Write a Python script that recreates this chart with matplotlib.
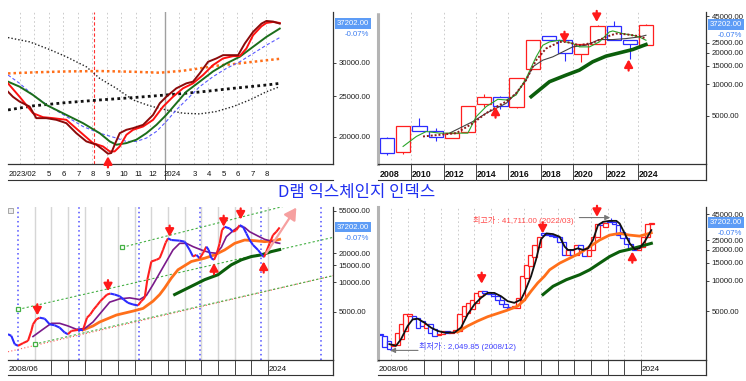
import matplotlib
matplotlib.use("Agg")
import matplotlib.pyplot as plt
from matplotlib.ticker import FixedLocator, NullLocator, FuncFormatter
from matplotlib.collections import LineCollection
from matplotlib.transforms import blended_transform_factory
from matplotlib.patches import Rectangle

plt.rcParams['font.family'] = ['Liberation Sans', 'Noto Sans CJK KR', 'DejaVu Sans']

W, H = 746, 381
RED = '#ff1f1f'
BLUE = '#2b2bff'
DKGREEN = '#0b5e0b'
ORANGE = '#ff6f1a'

title = "D램 익스체인지 인덱스"
last_price = 37202.00
change_txt = "-0.07%"

# ---- top left: daily, x = months counted from 2023/01 (=0)
tl_maroon_m = [1.20, 1.54, 2.0, 2.69, 3.15, 3.84, 4.53, 5.22, 5.91, 6.60, 7.29, 7.75, 8.09, 8.32, 8.55,
               8.90, 9.36, 9.82, 10.51, 11.20, 11.66, 12.11, 12.80, 13.49, 13.95, 14.41, 14.99, 15.56,
               16.02, 16.48, 17.06, 17.52, 18.09, 18.67, 19.01, 19.47, 19.93]
tl_maroon = [25600, 24900, 24250, 23600, 22150, 22150, 21950, 21550, 20400, 19500, 19150, 18640, 18230,
             18300, 19150, 20400, 20780, 20970, 21350, 22550, 24030, 24900, 26080, 26800, 27050, 28300,
             30160, 30720, 31280, 31280, 31280, 33340, 35530, 37180, 37720, 37600, 37180]
tl_red_m = [1.20, 2.0, 2.92, 3.61, 4.30, 5.22, 6.14, 7.06, 7.75, 8.21, 8.55, 8.90, 9.36, 9.82, 10.51,
            11.20, 11.89, 12.57, 13.26, 13.95, 14.64, 15.33, 16.02, 16.71, 17.17, 17.63, 18.09, 18.67,
            19.01, 19.47, 19.93]
tl_red = [26800, 24900, 22760, 22270, 22150, 21950, 20590, 19320, 18970, 18460, 18460, 18970, 20220,
          20780, 21160, 21950, 23600, 24900, 26080, 26800, 28050, 29620, 30720, 31110, 31110, 32440,
          34880, 36640, 37310, 37520, 37310]
tl_green_m = [1.20, 2.0, 2.92, 3.84, 5.22, 6.37, 7.52, 8.21, 8.67, 9.36, 10.05, 10.74, 11.43, 12.11,
              12.80, 13.49, 14.41, 15.33, 16.25, 17.17, 18.09, 19.01, 19.93]
tl_green = [27050, 26320, 25150, 23810, 22550, 21550, 20400, 19500, 19150, 19320, 19680, 20400, 21350,
            22550, 24030, 25600, 27050, 28610, 29890, 31000, 32740, 34570, 36180]
tl_blue_m = [1.20, 2.0, 2.92, 4.07, 5.22, 6.37, 7.52, 8.67, 9.36, 10.05, 10.74, 11.43, 12.11, 12.80,
             13.49, 14.41, 15.33, 16.25, 17.17, 18.09, 19.01, 19.93]
tl_blue = [28050, 26800, 25150, 23600, 22350, 21160, 20400, 19860, 19500, 19500, 19860, 20590, 21750,
           23170, 24470, 26320, 27800, 29090, 30160, 31570, 33040, 34440]
tl_orange_m = [1.20, 2.92, 5.22, 7.52, 9.82, 11.66, 13.26, 14.41, 15.56, 16.71, 18.09, 19.93]
tl_orange = [28300, 28460, 28610, 28670, 28560, 28410, 28720, 29090, 29510, 29780, 30160, 30660]
tl_blk_m = [1.20, 2.92, 5.22, 7.52, 9.82, 12.11, 14.41, 16.71, 19.01, 19.93]
tl_blk = [23170, 23690, 24120, 24470, 24790, 25150, 25560, 26080, 26560, 26800]
tl_blk2_m = [1.20, 2.69, 4.07, 5.22, 6.60, 7.52, 8.67, 9.82, 10.97, 12.11, 13.26, 14.41, 15.56, 16.71,
             17.86, 19.01, 19.93]
tl_blk2 = [34440, 33640, 32260, 31000, 29350, 27540, 26080, 24470, 23690, 23170, 22760, 22670, 22970,
           23600, 24470, 25600, 26320]
tl_labels = [(1.25, '2023/02'), (4, '5'), (5, '6'), (6, '7'), (7, '8'), (8, '9'), (9, '10'), (10, '11'),
             (11, '12'), (12, '2024'), (14, '3'), (15, '4'), (16, '5'), (17, '6'), (18, '7'), (19, '8')]

# ---- top right: yearly candles
tr_years = list(range(2008, 2025))
tr_open = [3040, 2218, 3984, 3590, 3040, 3440, 6460, 7590, 6095, 13940, 29010, 26770, 19670, 24520,
           35880, 26770, 23980]
tr_close = [2185, 3984, 3570, 3083, 3393, 6184, 7590, 6184, 11360, 26770, 26770, 19970, 24520, 35880,
            26770, 24520, 37202]
tr_high = [3100, 3984, 4715, 3840, 3440, 6184, 7990, 7700, 11360, 26770, 29010, 26770, 24520, 37200,
           40020, 26770, 37500]
tr_low = [2090, 2150, 3570, 2825, 3040, 3440, 6005, 5750, 5910, 13940, 26770, 16750, 16390, 24520,
          26770, 17500, 23980]
tr_green_x = [2009.49, 2010.31, 2010.92, 2011.75, 2012.98, 2013.49, 2014.01, 2014.62, 2015.34, 2015.86,
              2016.47, 2017.09, 2017.71, 2018.12, 2018.53, 2019.15, 2019.56, 2019.97, 2020.38, 2021.00,
              2021.61, 2022.23, 2022.44, 2023.05, 2023.67, 2024.08, 2024.49]
tr_green = [2530, 3152, 3517, 3392, 3392, 3392, 4890, 6094, 7160, 7053, 7875, 11360, 18290, 23630, 25420,
            26370, 25420, 24520, 22780, 22780, 25420, 31680, 32380, 30540, 29440, 28380, 26370]
tr_black_x = [2012.36, 2012.98, 2013.80, 2014.62, 2015.45, 2015.86, 2016.47, 2017.09, 2017.50, 2018.12,
              2018.74, 2019.15, 2019.97, 2020.79, 2021.61, 2022.44, 2023.26, 2024.08, 2024.49]
tr_black = [3392, 3785, 4382, 5263, 6094, 6556, 8168, 10950, 14680, 16990, 18290, 19670, 22780, 23630,
            26770, 26770, 27360, 28380, 29440]
tr_maroon_x = [2010.72, 2011.75, 2012.78, 2013.80, 2014.62, 2015.45, 2015.86, 2016.47, 2017.09, 2017.71,
               2018.32, 2019.15, 2019.56, 2020.38, 2021.20, 2022.02, 2022.64, 2023.26, 2024.08, 2024.49]
tr_maroon = [3152, 3270, 3392, 4225, 5263, 6320, 6800, 8168, 10950, 16990, 21960, 25420, 25420, 23630,
             24870, 28380, 30540, 30100, 28800, 27360]
tr_dkgreen_x = [2017.40, 2018.53, 2019.56, 2020.38, 2021.20, 2022.02, 2022.85, 2023.67, 2024.49]
tr_dkgreen = [7590, 10560, 12220, 13640, 16390, 18550, 19970, 21480, 23980]
tr_down = [(2019.46, 24900), (2021.45, 39450)]
tr_up = [(2015.2, 6094), (2023.42, 17250)]

# ---- bottom left: weekly
bl_x = [2008.40, 2008.60, 2008.80, 2009.00, 2009.30, 2009.60, 2009.80, 2009.90, 2010.10, 2010.30,
        2010.60, 2010.90, 2011.20, 2011.50, 2011.80, 2012.00, 2012.20, 2012.60, 2012.90, 2013.14,
        2013.34, 2013.54, 2013.74, 2013.94, 2014.14, 2014.34, 2014.54, 2014.80, 2015.10, 2015.34,
        2015.60, 2015.90, 2016.20, 2016.40, 2016.60, 2016.76, 2017.00, 2017.30, 2017.50, 2017.70,
        2017.86, 2018.00, 2018.20, 2018.70, 2019.00, 2019.30, 2019.50, 2019.70, 2019.90, 2020.10,
        2020.30, 2020.44, 2020.60, 2020.76, 2020.90, 2021.10, 2021.24, 2021.40, 2021.70, 2021.90,
        2022.10, 2022.30, 2022.50, 2022.70, 2022.90, 2023.10, 2023.40, 2023.64, 2023.76, 2023.90,
        2024.10, 2024.30, 2024.50, 2024.70]
bl_price = [2936, 2823, 2321, 2232, 2376, 2510, 3175, 3713, 4176, 4343, 4242, 3713, 3627, 3433, 3053,
            2936, 3175, 3250, 3250, 4343, 4697, 5282, 5802, 6424, 6947, 7513, 7692, 7513, 7224, 6680,
            6177, 5940, 5802, 6424, 6947, 10690, 16440, 17100, 17780, 21620, 25690, 28440, 27350, 26930,
            26300, 21620, 18490, 19230, 17780, 20000, 23390, 21620, 17780, 17100, 19230, 25290, 34590,
            37410, 35970, 33270, 34590, 38900, 37410, 31990, 27350, 24320, 21620, 19230, 18200, 20790,
            25290, 30760, 33270, 36830]
bl_purple_x = [2009.90, 2010.50, 2011.00, 2011.50, 2012.00, 2012.50, 2013.00, 2013.50, 2014.00, 2014.50,
               2015.10, 2015.70, 2016.30, 2016.70, 2017.10, 2017.50, 2017.90, 2018.30, 2018.70, 2019.10,
               2019.50, 2020.00, 2020.50, 2020.90, 2021.20, 2021.50, 2021.90, 2022.30, 2022.60, 2022.90,
               2023.40, 2023.80, 2024.10, 2024.50, 2024.70]
bl_purple = [2780, 3302, 3801, 3801, 3571, 3302, 3354, 3922, 4961, 6275, 6786, 6947, 6680, 7339, 9502,
             12500, 16440, 21620, 25290, 25290, 23390, 21620, 20310, 20000, 23020, 29580, 34050, 38000,
             36830, 33270, 30050, 27780, 26930, 25690, 25290]
bl_orange_x = [2012.90, 2013.50, 2013.90, 2014.90, 2015.90, 2016.50, 2017.10, 2017.50, 2017.80, 2018.20,
               2018.60, 2019.40, 2020.20, 2020.80, 2021.40, 2022.00, 2022.60, 2023.20, 2023.80, 2024.40,
               2024.70]
bl_orange = [3250, 3571, 3922, 4623, 5079, 5407, 6424, 7513, 8786, 11110, 13520, 16440, 17780, 19230,
             21620, 25290, 27350, 26930, 26300, 26930, 27780]
bl_dkgreen_x = [2018.40, 2019.00, 2019.60, 2020.20, 2021.00, 2021.40, 2021.80, 2022.40, 2023.00, 2023.60,
                2024.20, 2024.70]
bl_dkgreen = [7513, 8450, 9502, 10690, 12020, 13520, 15200, 17100, 18490, 19230, 20790, 21790]
bl_chan_upper = ([2015.26, 2026.2], [23020, 69000])
bl_chan_mid = ([2009.0, 2027.9], [5280, 29120])
bl_chan_low = ([2010.0, 2027.9], [2321, 11740])
bl_chan_red = ([2008.4, 2027.9], [1938, 11740])
bl_target = ((2023.9, 20000), (2025.7, 58930))
bl_cycles = [2009.0, 2012.64, 2016.26, 2019.9, 2023.56, 2027.2]
bl_down = [(2010.16, 4587), (2014.4, 8125), (2018.1, 29580), (2021.34, 37410), (2022.36, 44470)]
bl_up = [(2020.76, 15810), (2023.74, 16440)]

# ---- bottom right: quarterly candles from 2008 Q2
br_q0 = 2008.25
br_open = [2980, 2850, 2550, 2280, 2300, 2650, 3200, 4500, 4470, 4300, 3990, 3440, 3700, 3300, 2900,
           3000, 3150, 3050, 3100, 3190, 4470, 4800, 5200, 6030, 7000, 7840, 7700, 7400, 7100, 6400,
           5900, 5500, 5400, 5400, 6500, 10500, 13800, 17200, 21600, 29100, 28500, 28000, 27300, 27000,
           24000, 17900, 20000, 18000, 22500, 20500, 17500, 20000, 27000, 36500, 34000, 39000, 37500,
           35000, 30000, 26500, 23000, 20700, 20000, 21500, 27000, 36000]
br_close = [2880, 2190, 2110, 2360, 3070, 3700, 4640, 4640, 4150, 3440, 3570, 3700, 3070, 2850, 3000,
            3150, 3050, 3100, 3250, 4640, 5600, 6030, 6500, 7550, 7840, 7550, 7400, 7100, 6400, 5900,
            5500, 5400, 5600, 6750, 11000, 14300, 17900, 22300, 27000, 28000, 27800, 27300, 26700, 24000,
            17900, 20000, 18000, 22500, 20500, 17500, 20000, 27000, 36000, 35500, 36500, 37500, 36000,
            28000, 26500, 23000, 20300, 20000, 21500, 27000, 36000, 37202]
br_black_x = [2008.90, 2009.30, 2009.60, 2010.00, 2010.30, 2010.60, 2011.00, 2011.40, 2011.80, 2012.20,
              2012.80, 2013.20, 2013.60, 2014.00, 2014.40, 2014.80, 2015.20, 2015.60, 2016.00, 2016.40,
              2016.80, 2017.00, 2017.40, 2017.70, 2018.00, 2018.32, 2018.72, 2019.12, 2019.42, 2019.62,
              2019.92, 2020.22, 2020.52, 2020.82, 2021.12, 2021.42, 2021.72, 2022.12, 2022.52, 2022.72,
              2023.02, 2023.32, 2023.62, 2023.92, 2024.22, 2024.62]
br_black = [2362, 2276, 2644, 3569, 4145, 4208, 3847, 3437, 3188, 3072, 3072, 3437, 4639, 5809, 6749,
            7551, 7551, 7006, 6261, 6031, 6500, 7551, 10990, 16000, 25500, 29120, 28680, 27000, 21570,
            20010, 20010, 20770, 20010, 20770, 25060, 35100, 37840, 38710, 38710, 36450, 29120, 23250,
            20310, 20770, 24130, 31380]
br_orange_x = [2013.00, 2013.60, 2014.20, 2014.80, 2015.40, 2016.00, 2016.60, 2017.00, 2017.40, 2017.80,
               2018.20, 2018.52, 2019.12, 2019.72, 2020.32, 2020.92, 2021.52, 2022.12, 2022.72, 2023.32,
               2023.92, 2024.62]
br_orange = [3118, 3569, 3993, 4402, 4744, 5114, 5595, 6403, 7842, 9455, 11000, 12760, 14830, 16590,
             18560, 21570, 25060, 28020, 29120, 28020, 27380, 29550]
br_dkgreen_x = [2018.12, 2018.72, 2019.52, 2020.32, 2020.92, 2021.52, 2022.12, 2022.72, 2023.32, 2023.92,
                2024.62]
br_dkgreen = [7274, 8771, 10190, 11400, 12760, 14830, 17225, 19270, 20310, 21570, 23250]
br_high_pt = (2022.2, 41711.00)
br_low_pt = (2008.95, 2049.85)
br_down = [(2014.44, 9300), (2018.1, 29100), (2021.36, 42350)]
br_up = [(2023.48, 19270)]

fig = plt.figure(figsize=(W / 100, H / 100), dpi=100)
fig.patch.set_facecolor('white')


def make_ax(x0, y0, x1, y1):
    return fig.add_axes([x0 / W, 1 - y1 / H, (x1 - x0) / W, (y1 - y0) / H])


def style(ax, yticks, ylim, xlim, dotted_left=False):
    ax.set_yscale('log')
    ax.set_xlim(*xlim)
    ax.set_ylim(*ylim)
    ax.yaxis.tick_right()
    ax.yaxis.set_major_locator(FixedLocator(yticks))
    ax.yaxis.set_minor_locator(NullLocator())
    ax.yaxis.set_major_formatter(FuncFormatter(lambda v, p: f"{v:.2f}"))
    ax.tick_params(axis='y', labelsize=5.6, length=2.5, width=0.6, pad=1.5, colors='#222')
    ax.set_xticks([])
    ax.spines['top'].set_visible(False)
    for s in ['right', 'bottom']:
        ax.spines[s].set_color('#333')
        ax.spines[s].set_linewidth(0.9)
    if dotted_left:
        ax.spines['left'].set_color('#b4b4b4')
        ax.spines['left'].set_linewidth(2.2)
        ax.spines['left'].set_linestyle((0, (1, 1)))
    else:
        ax.spines['left'].set_visible(False)


def price_tag(ax):
    tr = blended_transform_factory(ax.transAxes, ax.transData)
    ax.text(1.012, last_price, f"{last_price:.2f}", transform=tr, fontsize=5.6, color='white',
            ha='left', va='center', clip_on=False,
            bbox=dict(boxstyle='square,pad=0.25', fc='#5d9cf6', ec='none'))
    ax.annotate(change_txt, xy=(1.0, last_price), xycoords=tr, xytext=(17, -8),
                textcoords='offset points', fontsize=5.6, color='#3b7cf0', ha='center', va='center')


def strip(ax, y_lab, y_line, seps, labels, bold=False, fs=5.6, right_line=False):
    trx = blended_transform_factory(ax.transData, ax.transAxes)
    ax.plot([0, 1], [y_line, y_line], transform=ax.transAxes, clip_on=False, color='#333', lw=0.8)
    for s in seps:
        ax.plot([s, s], [0, y_line], transform=trx, clip_on=False, color='#444', lw=0.7)
    if right_line:
        ax.plot([1, 1], [0, y_line], transform=ax.transAxes, clip_on=False, color='#333', lw=0.9)
    for x, t in labels:
        ax.text(x, y_lab, t, transform=trx, ha='left', va='center', fontsize=fs, color='#111',
                fontweight='bold' if bold else 'normal', clip_on=False)


def arrow(ax, x, v, down=True, color='#ff1a1a'):
    ax.annotate('', xy=(x, v), xytext=(0, 8 if down else -8), textcoords='offset points',
                arrowprops=dict(arrowstyle='-|>,head_length=0.45,head_width=0.25', color=color,
                                lw=1.6, shrinkA=0, shrinkB=0), zorder=6)


def candles(ax, x, o, c, w, h=None, l=None):
    cols = [RED if b >= a else BLUE for a, b in zip(o, c)]
    if h is not None:
        ax.vlines(x, l, h, colors=cols, lw=0.8, zorder=2)
    lo = [min(a, b) for a, b in zip(o, c)]
    ht = [abs(a - b) for a, b in zip(o, c)]
    ax.bar(x, ht, bottom=lo, width=w, facecolor='white', edgecolor=cols, linewidth=0.9, zorder=2.5)


# ================= top left =================
ax1 = make_ax(8, 12, 333, 164)
for m in range(2, 20):
    if m == 12:
        ax1.axvline(m, color='#a0a0a0', lw=1.0, zorder=0)
    else:
        ax1.axvline(m, color='#c4c4c4', lw=0.6, ls=(0, (2, 3)), zorder=0)
ax1.axvline(7.13, color='#ff3030', lw=0.8, ls=(0, (3, 2)), zorder=1)
ax1.plot(tl_blk2_m, tl_blk2, color='#222', lw=1.0, ls=(0, (1, 1.5)), zorder=3)
ax1.plot(tl_blk_m, tl_blk, color='#111', lw=2.0, ls=(0, (1, 1.2)), zorder=3)
ax1.plot(tl_orange_m, tl_orange, color=ORANGE, lw=1.8, ls=(0, (1, 1.2)), zorder=3)
ax1.plot(tl_blue_m, tl_blue, color='#5a5aff', lw=0.8, ls=(0, (3, 2)), zorder=3)
ax1.plot(tl_green_m, tl_green, color='#1b6e1b', lw=1.4, zorder=4)
ax1.plot(tl_red_m, tl_red, color='#ff1010', lw=1.4, zorder=4)
ax1.plot(tl_maroon_m, tl_maroon, color='#8b0a0a', lw=1.4, zorder=5)
arrow(ax1, 8.09, 17970, down=False)
style(ax1, [20000, 25000, 30000], (17230, 39620), (1.2, 23.6))
price_tag(ax1)
strip(ax1, -0.072, -0.105, [12], [(x - 0.1 if t != '2023/02' else x, t) for x, t in tl_labels])

# ================= top right =================
ax2 = make_ax(378, 12, 706, 164)
for y in range(2010, 2025, 2):
    ax2.axvline(y, color='#c4c4c4', lw=0.6, ls=(0, (2, 3)), zorder=0)
candles(ax2, [y + 0.5 for y in tr_years], tr_open, tr_close, 0.88, tr_high, tr_low)
ax2.plot(tr_dkgreen_x, tr_dkgreen, color=DKGREEN, lw=2.6, zorder=3)
ax2.plot(tr_black_x, tr_black, color='#444', lw=0.8, zorder=3)
ax2.plot(tr_green_x, tr_green, color='#2aa52a', lw=0.8, zorder=3)
ax2.plot(tr_maroon_x, tr_maroon, color='#8b1a1a', lw=1.4, ls=(0, (1, 1)), zorder=4)
for x, v in tr_down:
    arrow(ax2, x, v, down=True)
for x, v in tr_up:
    arrow(ax2, x, v, down=False)
style(ax2, [5000, 10000, 15000, 20000, 25000, 45000], (1716, 49200), (2007.94, 2028.2), dotted_left=True)
price_tag(ax2)
strip(ax2, -0.072, -0.105, list(range(2010, 2025, 2)),
      [(2008.06, '2008')] + [(y + 0.05, str(y)) for y in range(2010, 2025, 2)],
      bold=True, fs=6.4, right_line=True)

# ================= bottom left =================
ax3 = make_ax(8, 207, 333, 360)
for y in range(2010, 2025):
    ax3.axvline(y, color='#d6d6d6', lw=1.0, zorder=0)
for c in bl_cycles:
    ax3.axvline(c, color='#5050ff', lw=1.1, ls=(0, (1, 2)), zorder=0)
ax3.plot(*bl_chan_red, color='#ff5a5a', lw=0.8, ls=(0, (1, 2)), zorder=1)
for xs, vs in (bl_chan_upper, bl_chan_mid, bl_chan_low):
    ax3.plot(xs, vs, color='#44b044', lw=0.8, ls=(0, (2, 2)), zorder=1)
    ax3.plot(xs[0], vs[0], marker='s', ms=3.2, mfc='white', mec='#44b044', mew=0.9, zorder=2)
ax3.plot(bl_dkgreen_x, bl_dkgreen, color=DKGREEN, lw=2.2, zorder=3)
ax3.plot(bl_orange_x, bl_orange, color=ORANGE, lw=2.0, zorder=3)
ax3.plot(bl_purple_x, bl_purple, color='#7a1a8a', lw=1.2, zorder=3)
pts = list(zip(bl_x, bl_price))
segs = [[pts[i], pts[i + 1]] for i in range(len(pts) - 1)]
seg_cols = [RED if pts[i + 1][1] > pts[i][1] else BLUE for i in range(len(pts) - 1)]
ax3.add_collection(LineCollection(segs, colors=seg_cols, linewidths=1.5, zorder=4))
ax3.annotate('', xy=bl_target[1], xytext=bl_target[0],
             arrowprops=dict(arrowstyle='-|>,head_length=0.7,head_width=0.4', color='#f6a0a0',
                             lw=1.6, shrinkA=0, shrinkB=0), zorder=5)
for x, v in bl_down:
    arrow(ax3, x, v, down=True)
for x, v in bl_up:
    arrow(ax3, x, v, down=False)
style(ax3, [5000, 10000, 15000, 20000, 55000], (1594, 59800), (2008.4, 2027.9))
price_tag(ax3)
strip(ax3, -0.063, -0.098, list(range(2011, 2025)), [(2008.42, '2008/06'), (2024.05, '2024')],
      fs=5.9, right_line=True)
fig.patches.append(Rectangle((8.3 / W, 1 - 212.7 / H), 4.4 / W, 4.6 / H, transform=fig.transFigure,
                             fc='#eeeeee', ec='#999999', lw=0.6))

# ================= bottom right =================
ax4 = make_ax(378, 207, 706, 360)
for y in range(2009, 2025):
    ax4.axvline(y, color='#c4c4c4', lw=0.6, ls=(0, (2, 3)), zorder=0)
qx = [br_q0 + 0.25 * i + 0.125 for i in range(len(br_open))]
candles(ax4, qx, br_open, br_close, 0.28)
ax4.vlines([br_high_pt[0]], 39000, br_high_pt[1], colors=BLUE, lw=0.8, zorder=2)
ax4.vlines([br_low_pt[0]], br_low_pt[1], 2110, colors=BLUE, lw=0.8, zorder=2)
ax4.plot(br_dkgreen_x, br_dkgreen, color=DKGREEN, lw=2.2, zorder=3)
ax4.plot(br_orange_x, br_orange, color=ORANGE, lw=2.0, zorder=3)
ax4.plot(br_black_x, br_black, color='#111', lw=1.3, zorder=4)
for x, v in br_down:
    arrow(ax4, x, v, down=True)
for x, v in br_up:
    arrow(ax4, x, v, down=False)
ax4.annotate('', xy=br_low_pt, xytext=(2010.62, br_low_pt[1]),
             arrowprops=dict(arrowstyle='-|>,head_length=0.3,head_width=0.15', color='#777', lw=0.8,
                             shrinkA=0, shrinkB=0))
ax4.text(2010.7, 2225, f"최저가 : {br_low_pt[1]:,.2f} (2008/12)", fontsize=5.8, color='#4040ff',
         ha='left', va='center')
ax4.annotate('', xy=(br_high_pt[0] - 0.05, br_high_pt[1]), xytext=(2020.3, br_high_pt[1]),
             arrowprops=dict(arrowstyle='-|>,head_length=0.3,head_width=0.15', color='#777', lw=0.8,
                             shrinkA=0, shrinkB=0))
ax4.text(2013.9, 38700, f"최고가 : {br_high_pt[1]:,.2f} (2022/03)", fontsize=5.8, color='#ff4a4a',
         ha='left', va='center')
style(ax4, [5000, 10000, 15000, 20000, 25000, 45000], (1649, 53000), (2008.22, 2027.9), dotted_left=True)
price_tag(ax4)
strip(ax4, -0.063, -0.098, list(range(2011, 2025)), [(2008.26, '2008/06'), (2024.05, '2024')],
      fs=5.9, right_line=True)

fig.text(357 / W, 1 - 192 / H, title, ha='center', va='center', fontsize=12, color='#1f2ff0',
         family=['Noto Sans CJK KR', 'DejaVu Sans'])

fig.savefig('out.png', dpi=100)
